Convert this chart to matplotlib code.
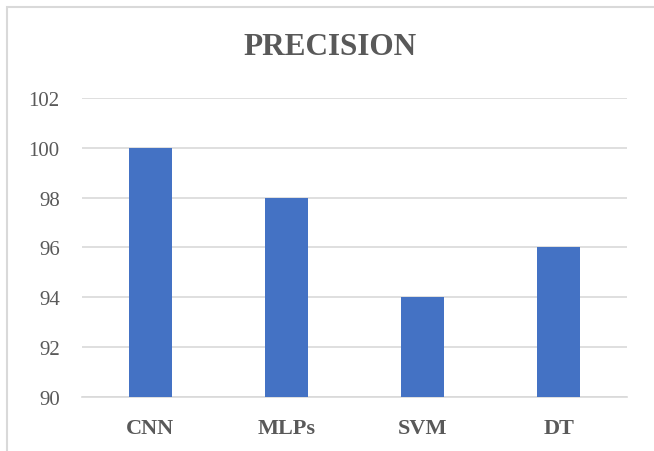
import matplotlib
matplotlib.use("Agg")
import matplotlib.pyplot as plt
from matplotlib.patches import Rectangle

categories = ["CNN", "MLPs", "SVM", "DT"]
precision = [100, 98, 94, 96]
y_ticks = [90, 92, 94, 96, 98, 100, 102]

BAR = "#4472C4"
TEXT = "#595959"
GRID = "#D9D9D9"

plt.rcParams["font.family"] = ["Liberation Serif", "DejaVu Serif"]

fig = plt.figure(figsize=(6.54, 4.52), dpi=100)
ax = fig.add_axes([0.1254, 0.1195, 0.8333, 0.6615])

x = range(len(categories))
ax.bar(x, [v - 90 for v in precision], bottom=90, width=0.316, color=BAR, zorder=3)

ax.set_xlim(-0.5, len(categories) - 0.5)
ax.set_ylim(90, 102)
ax.set_yticks(y_ticks)
ax.set_yticklabels([str(t) for t in y_ticks], fontsize=15, color=TEXT)
ax.set_xticks(list(x))
ax.set_xticklabels(categories, fontsize=16, fontweight="bold", color=TEXT)
ax.tick_params(axis="y", length=0, pad=16)
ax.tick_params(axis="x", length=0, pad=15)

ax.grid(axis="y", color=GRID, linewidth=1.2, zorder=0)
for side in ("top", "right", "left"):
    ax.spines[side].set_visible(False)
ax.spines["bottom"].set_color(GRID)
ax.spines["bottom"].set_linewidth(1.2)

fig.text(0.505, 0.895, "PRECISION", ha="center", va="center",
         fontsize=22.5, fontweight="bold", color=TEXT)

# chart frame (right and bottom edges fall outside the crop)
fig.patches.append(Rectangle((7 / 654, -0.1), 1.2, 0.982 + 0.1,
                             transform=fig.transFigure, fill=False,
                             edgecolor=GRID, linewidth=1.5))

fig.savefig("out.png", dpi=100)
